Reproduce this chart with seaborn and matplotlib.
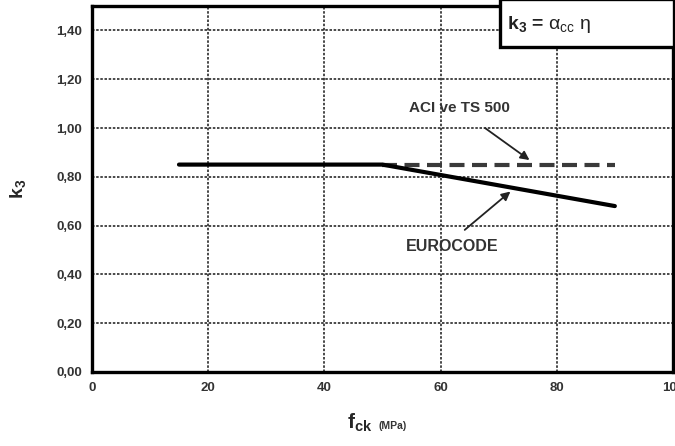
import numpy as np
import pandas as pd
import matplotlib
matplotlib.use("Agg")
import matplotlib.pyplot as plt
from matplotlib.patches import Rectangle
import seaborn as sns

# Data
fck_euro = [15, 50, 60, 70, 80, 90]
k3_euro = [0.85, 0.85, 0.8075, 0.765, 0.7225, 0.68]
fck_aci = [50, 90]
k3_aci = [0.85, 0.85]

x_ticks = [0, 20, 40, 60, 80, 100]
x_labels = ["0", "20", "40", "60", "80", "100"]
y_ticks = [0.0, 0.2, 0.4, 0.6, 0.8, 1.0, 1.2, 1.4]
y_labels = ["0,00", "0,20", "0,40", "0,60", "0,80", "1,00", "1,20", "1,40"]

sns.set_style("white")
plt.rcParams["font.family"] = ["Liberation Sans", "DejaVu Sans"]
plt.rcParams["mathtext.fontset"] = "custom"
plt.rcParams["mathtext.rm"] = "Liberation Sans"
plt.rcParams["mathtext.it"] = "Liberation Sans"
plt.rcParams["mathtext.bf"] = "Liberation Sans:bold"

df_euro = pd.DataFrame({"fck": fck_euro, "k3": k3_euro})
df_aci = pd.DataFrame({"fck": fck_aci, "k3": k3_aci})

fig = plt.figure(figsize=(6.75, 4.46), dpi=100)
ax = fig.add_axes([0.136, 0.166, 0.861, 0.8205])

sns.lineplot(data=df_aci, x="fck", y="k3", ax=ax, color="#3a3a3a", lw=3.0,
             dashes=False, zorder=3)
ax.lines[-1].set_dashes([3.6, 1.8])
sns.lineplot(data=df_euro, x="fck", y="k3", ax=ax, color="black", lw=3.0,
             zorder=4)
ax.lines[-1].set_solid_capstyle("round")

ax.set_xlim(0, 100)
ax.set_ylim(0, 1.5)
ax.set_xticks(x_ticks)
ax.set_xticklabels(x_labels)
ax.set_yticks(y_ticks)
ax.set_yticklabels(y_labels)
ax.tick_params(axis="both", length=0, pad=7, labelsize=9.5, labelcolor="#333333")
for lab in ax.get_xticklabels() + ax.get_yticklabels():
    lab.set_fontweight("bold")

ax.grid(True, color="#2a2a2a", linestyle=(0, (1.5, 1.0)), linewidth=1.2)
for sp in ax.spines.values():
    sp.set_visible(True)
    sp.set_color("black")
    sp.set_linewidth(2.4)

ax.set_ylabel(r"$\mathbf{k_3}$", fontsize=14, labelpad=20)
ax.set_xlabel("")
fig.text(0.514, 0.038, r"$\mathbf{f_{ck}}$", fontsize=15, ha="left", va="baseline")
fig.text(0.56, 0.038, "(MPa)", fontsize=7.5, fontweight="bold", ha="left",
         va="baseline", color="#333333")

# annotations
ax.annotate("", xy=(75.7, 0.862), xytext=(67.3, 1.006),
            arrowprops=dict(arrowstyle="-|>", color="#222222", lw=1.3,
                            mutation_scale=13))
ax.text(63.3, 1.084, "ACI ve TS 500", ha="center", va="center", fontsize=11,
        fontweight="bold", color="#333333")
ax.annotate("", xy=(72.4, 0.747), xytext=(63.8, 0.575),
            arrowprops=dict(arrowstyle="-|>", color="#222222", lw=1.3,
                            mutation_scale=13))
ax.text(62.0, 0.513, "EUROCODE", ha="center", va="center", fontsize=11.5,
        fontweight="bold", color="#333333")

# formula box in upper right corner
ax.add_patch(Rectangle((70.2, 1.33), 30, 0.2, facecolor="white",
                       edgecolor="black", lw=2.4, zorder=5, clip_on=False))
ax.text(71.5, 1.425, r"$\mathbf{k_3}$ = $\alpha_{cc}$ $\eta$", fontsize=14,
        fontweight="bold", ha="left", va="center", zorder=6, color="#222222")

fig.savefig("out.png", dpi=100)
